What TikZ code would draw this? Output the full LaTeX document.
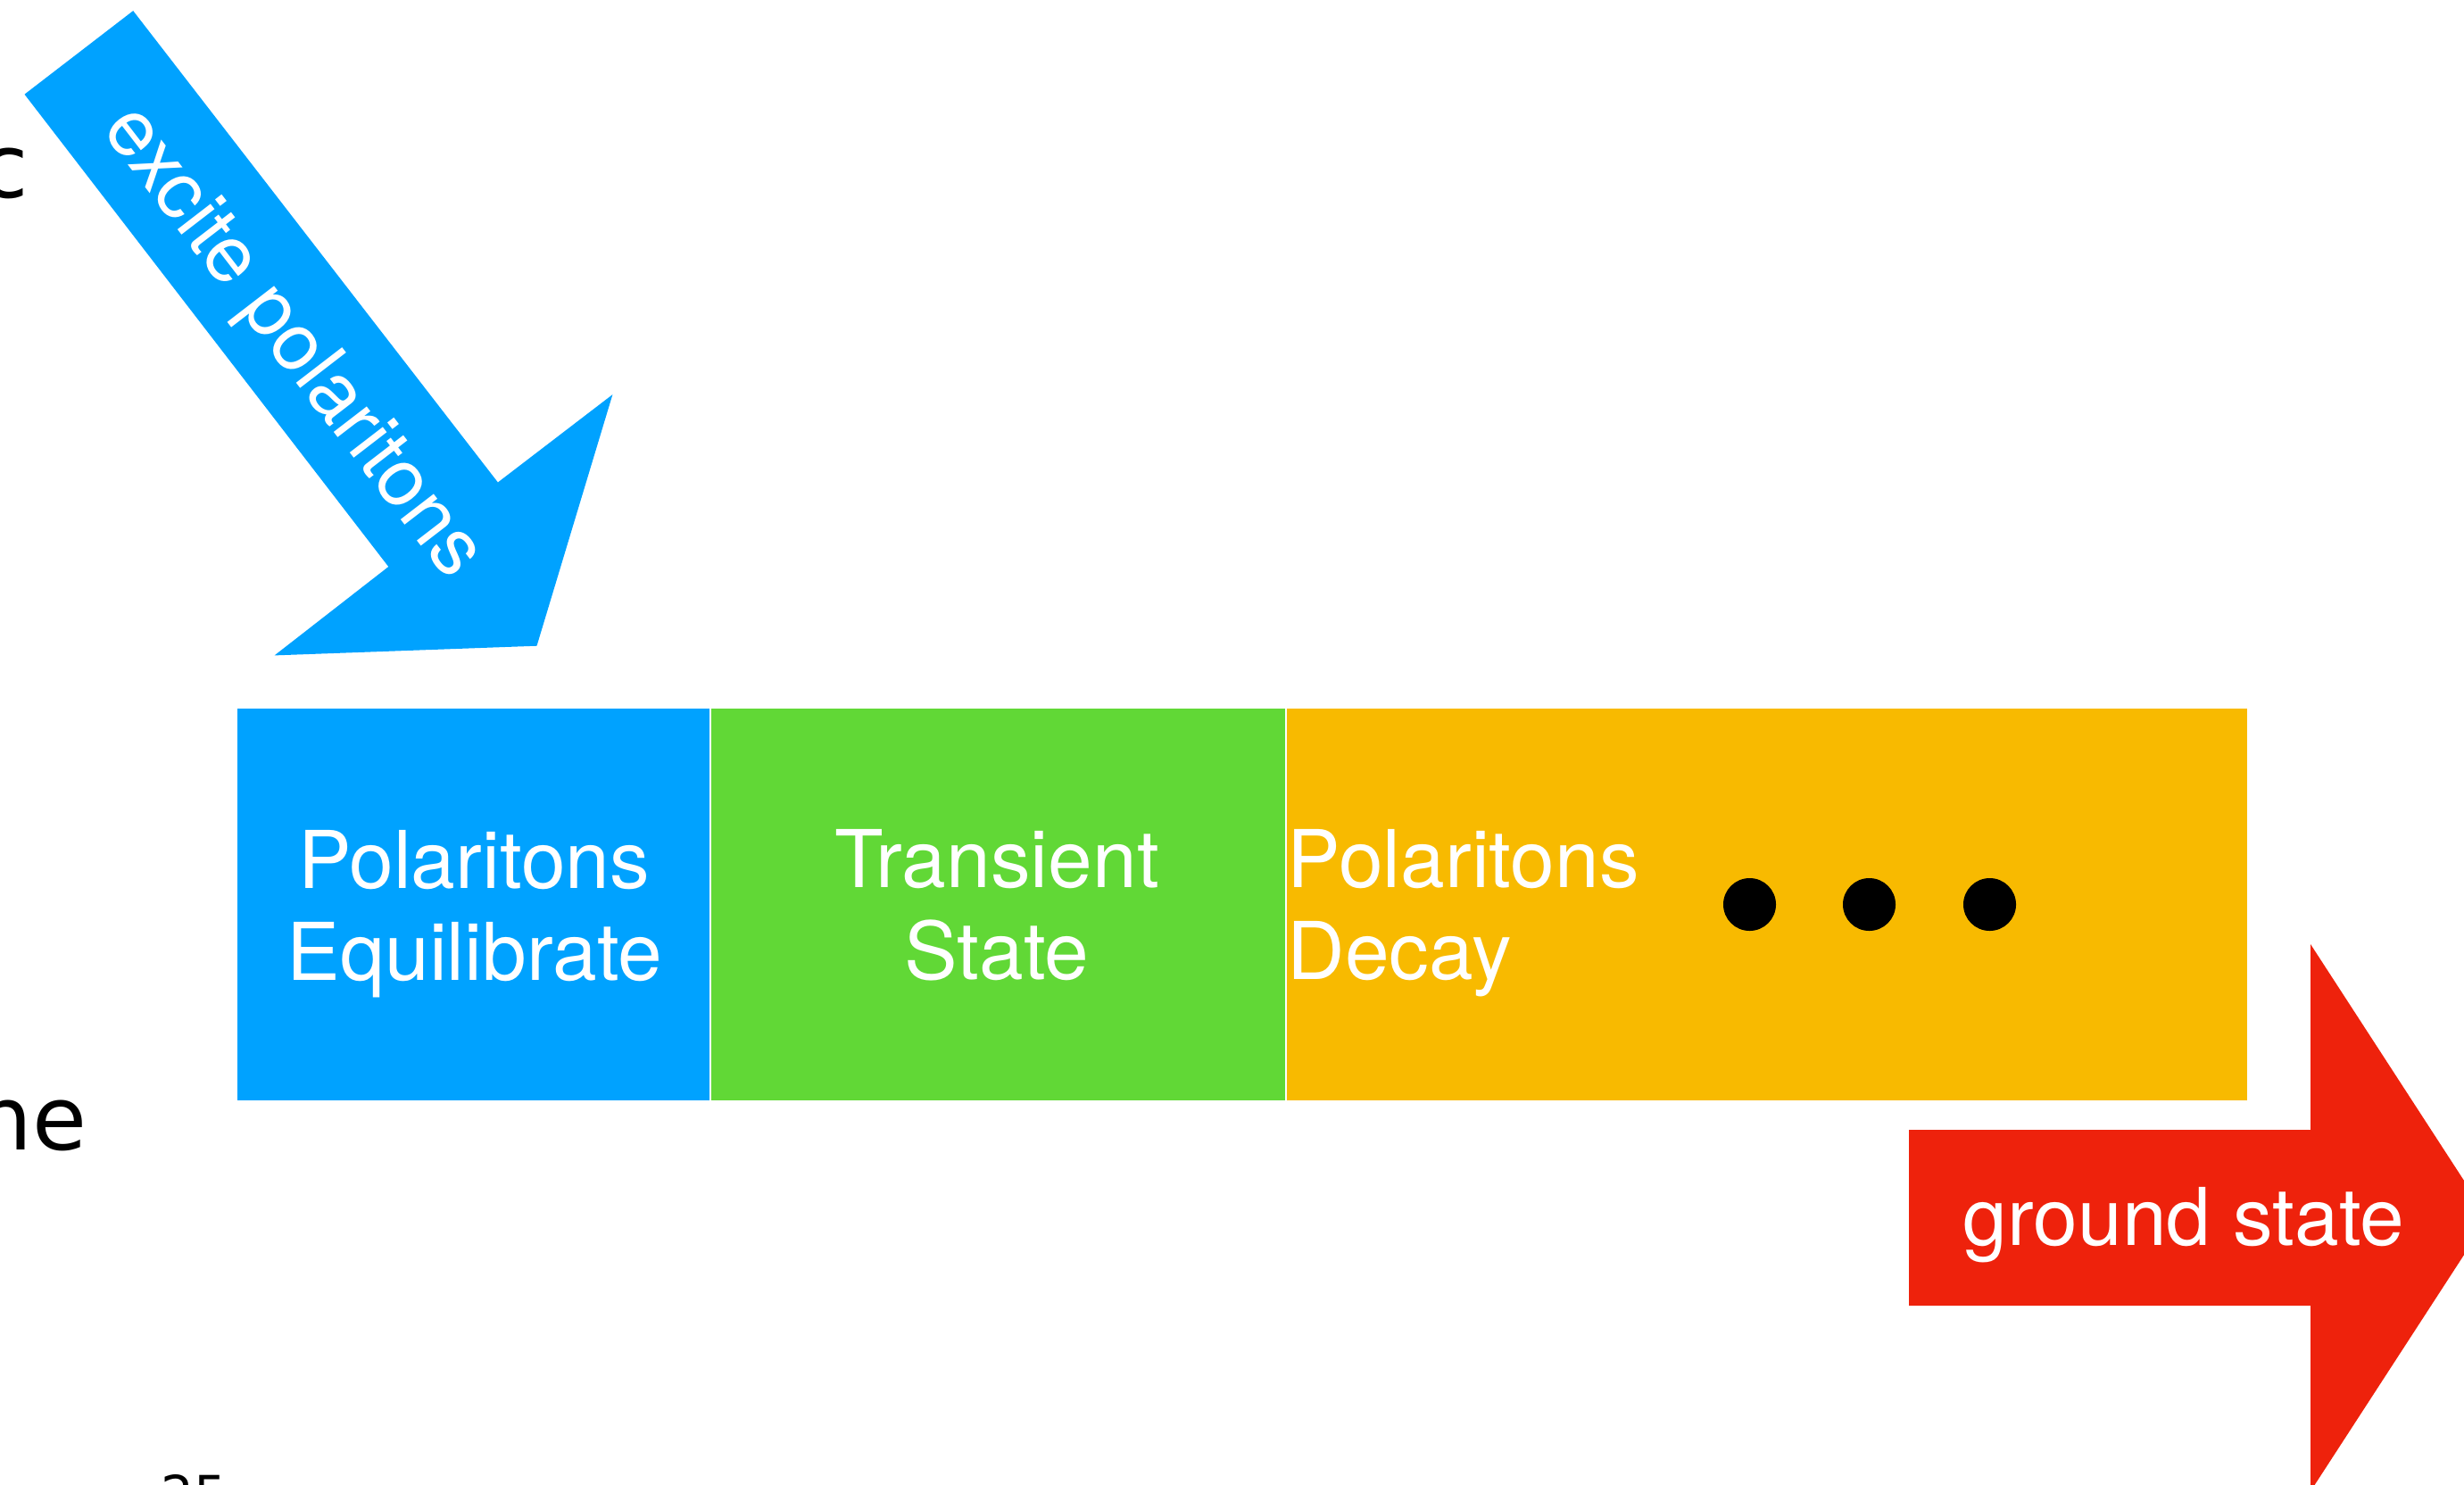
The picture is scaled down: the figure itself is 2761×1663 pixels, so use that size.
\documentclass[tikz,border=0pt]{standalone}
\usepackage{fontspec}
\setmainfont{TeX Gyre Heros}
\newfontfamily\slidefont{DejaVu Sans}
\definecolor{kblue}{RGB}{0,162,255}
\definecolor{kgreen}{RGB}{97,216,54}
\definecolor{korange}{RGB}{248,186,0}
\definecolor{kred}{RGB}{238,34,12}
\begin{document}
\begin{tikzpicture}[x=0.01cm,y=-0.01cm,
  phase/.style={rectangle, inner sep=0pt, outer sep=0pt, draw=none,
    minimum height=4.39cm, anchor=north west},
  lbl/.style={text=white, font=\fontsize{25.4}{29.3}\selectfont,
    inner sep=0pt, anchor=base},
  slidetext/.style={text=black, font=\slidefont\fontsize{28.2}{34}\selectfont,
    inner sep=0pt, anchor=base west},
  dot/.style={circle, fill=black, minimum size=0.59cm, inner sep=0pt}]
\useasboundingbox (0,0) rectangle (2761,1663);
\clip (0,0) rectangle (2761,1663);

% fragments of the surrounding slide text
\node[slidetext] (fragC) at (-23,221) {c};
\node[slidetext] (fragHe) at (-27,1288) {he};
\node[slidetext, font=\slidefont\fontsize{16.5}{20}\selectfont] (pagenum) at (180,1695) {25};

% excitation arrow
\fill[kblue] (27.5,105.7) -- (149.2,12.1) -- (557.9,540.5) -- (686.4,442.1)
  -- (601.5,723.7) -- (307.6,734.4) -- (435.3,635) -- cycle;
\node[lbl, anchor=center, rotate=-52.4] (excite) at (326.5,384.8) {excite polaritons};

% the three phases
\node[phase, fill=kblue, minimum width=5.29cm] (equil) at (266,794) {};
\node[phase, fill=kgreen, minimum width=6.43cm] (transient) at (797,794) {};
\node[phase, fill=korange, minimum width=10.75cm] (decay) at (1442,794) {};

\node[lbl] (equilA) at (531,995) {Polaritons};
\node[lbl] (equilB) at (532,1098) {Equilibrate};
\node[lbl] (transA) at (1117,994) {Transient};
\node[lbl] (transB) at (1117,1097) {State};
\node[lbl, anchor=base west] (decayA) at (1442,994) {Polaritons};
\node[lbl, anchor=base west] (decayB) at (1442,1097) {Decay};

\node[dot] (dot1) at (1960.5,1013.5) {};
\node[dot] (dot2) at (2094.5,1013.5) {};
\node[dot] (dot3) at (2229.5,1013.5) {};

% relaxation arrow
\fill[kred] (2139,1266) -- (2589,1266) -- (2589,1058) -- (2788,1364.5)
  -- (2589,1671) -- (2589,1463) -- (2139,1463) -- cycle;
\node[lbl] (ground) at (2447,1395) {ground state};
\end{tikzpicture}
\end{document}
